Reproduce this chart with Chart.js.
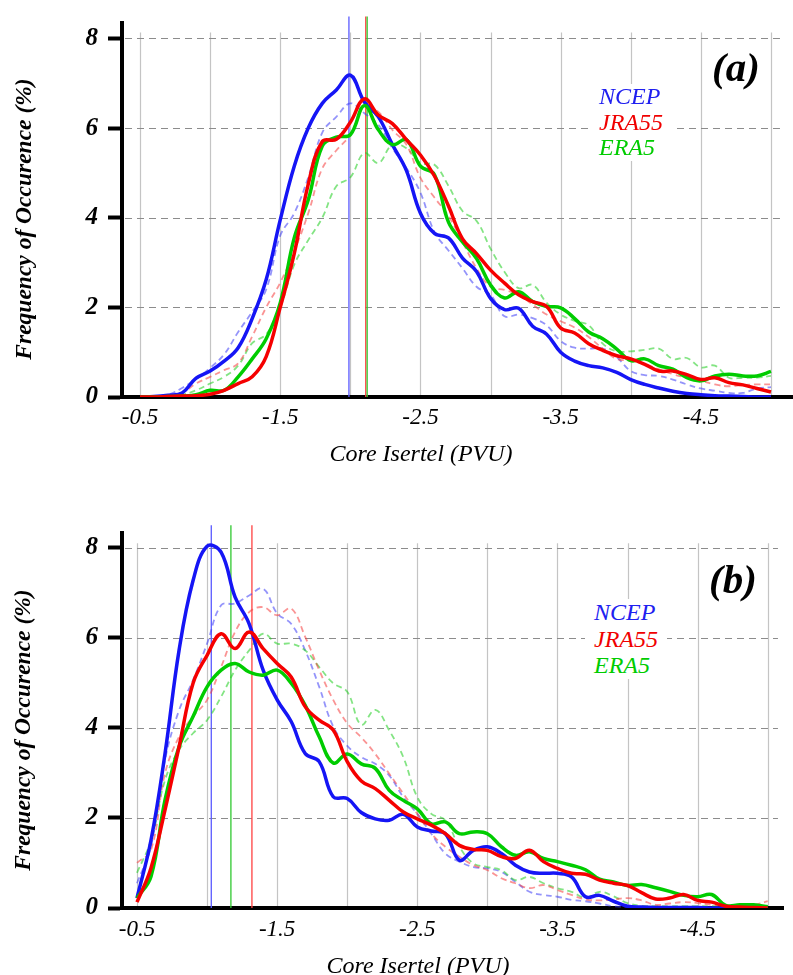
<!DOCTYPE html>
<html><head><meta charset="utf-8">
<script src="https://cdn.jsdelivr.net/npm/chart.js@4.4.1/dist/chart.umd.min.js"></script>
<style>
html,body{margin:0;padding:0;background:#fff;}
#wrap{position:relative;width:793px;height:975px;overflow:hidden;font-family:"Liberation Serif","Times New Roman",serif;}
.pane{position:absolute;left:0;width:793px;}
canvas{display:block;}
.ov{position:absolute;white-space:nowrap;font-style:italic;color:#000;font-family:"Liberation Serif","Times New Roman",serif;}
.ytitle{font-weight:bold;font-size:23.5px;transform:translate(-50%,-50%) rotate(-90deg);}
.xtitle{font-size:24px;transform:translate(-50%,-50%);}
.plabel{font-weight:bold;font-size:41px;transform:translate(-50%,-50%);}
.leg{background:#fff;font-size:24px;padding-left:9px;}
</style></head><body>
<div id="wrap">
  <div class="pane" style="top:0;height:490px"><canvas id="ca" width="793" height="490"></canvas></div>
  <div class="pane" style="top:490px;height:485px"><canvas id="cb" width="793" height="485"></canvas></div>

  <div class="ov ytitle" style="left:23px;top:219px">Frequency of Occurence (%)</div>
  <div class="ov xtitle" style="left:421px;top:453px">Core Isertel (PVU)</div>
  <div class="ov plabel" style="left:736px;top:67px">(a)</div>
  <div class="ov leg" style="left:590px;top:84px;width:73px;line-height:25.5px">
    <div style="color:#2020f0">NCEP</div><div style="color:#f00000">JRA55</div><div style="color:#00cc00">ERA5</div>
  </div>

  <div class="ov ytitle" style="left:22px;top:730px">Frequency of Occurence (%)</div>
  <div class="ov xtitle" style="left:418px;top:965px">Core Isertel (PVU)</div>
  <div class="ov plabel" style="left:733px;top:579px">(b)</div>
  <div class="ov leg" style="left:585px;top:599px;width:73px;line-height:26.5px">
    <div style="color:#2020f0">NCEP</div><div style="color:#f00000">JRA55</div><div style="color:#00cc00">ERA5</div>
  </div>
</div>
<script>
// ---------- data ----------
const xValues = [-0.5,-0.6,-0.7,-0.8,-0.9,-1.0,-1.1,-1.2,-1.3,-1.4,-1.5,-1.6,-1.7,-1.8,-1.9,-2.0,-2.1,-2.2,-2.3,-2.4,-2.5,-2.6,-2.7,-2.8,-2.9,-3.0,-3.1,-3.2,-3.3,-3.4,-3.5,-3.6,-3.7,-3.8,-3.9,-4.0,-4.1,-4.2,-4.3,-4.4,-4.5,-4.6,-4.7,-4.8,-4.9,-5.0];
const xTickLabels = [-0.5,-1.5,-2.5,-3.5,-4.5];
const xGridValues = [-0.5,-1.0,-1.5,-2.0,-2.5,-3.0,-3.5,-4.0,-4.5,-5.0];
const yTickValues = [0,2,4,6,8];

// panel (a) solid
const ncepA = [0,0.01,0.04,0.09,0.42,0.58,0.8,1.1,1.75,2.62,3.95,5.15,6.0,6.55,6.85,7.18,6.58,6.25,5.63,5.05,4.1,3.65,3.55,3.1,2.8,2.2,1.95,1.98,1.58,1.4,1.0,0.8,0.7,0.65,0.55,0.39,0.28,0.2,0.13,0.08,0.05,0.03,0.02,0.01,0,0];
const jraA  = [0,0,0.01,0.02,0.03,0.06,0.15,0.3,0.45,0.9,2.0,3.2,4.75,5.7,5.75,6.13,6.65,6.29,6.1,5.74,5.4,4.93,4.26,3.53,3.2,2.83,2.54,2.28,2.13,2.02,1.54,1.43,1.19,1.04,0.92,0.85,0.73,0.58,0.58,0.5,0.39,0.43,0.32,0.27,0.19,0.11];
const eraA  = [0,0,0.01,0.02,0.05,0.15,0.15,0.45,0.85,1.3,2.1,3.55,4.4,5.6,5.8,5.85,6.5,5.96,5.63,5.74,5.15,4.96,3.9,3.46,3.09,2.5,2.21,2.35,2.13,2.02,1.99,1.75,1.45,1.3,1.07,0.81,0.85,0.7,0.62,0.43,0.36,0.47,0.51,0.47,0.47,0.57];
// panel (a) dashed
const ncepA2 = [0,0.02,0.05,0.2,0.4,0.65,0.95,1.45,1.9,2.4,3.6,4.1,4.9,5.9,6.25,6.55,6.33,6.07,5.55,5.11,4.56,3.68,3.27,2.87,2.46,2.28,1.8,1.84,1.76,1.6,1.25,1.1,1.08,1.08,0.89,0.58,0.49,0.47,0.39,0.28,0.19,0.14,0.09,0.09,0.19,0.22];
const jraA2  = [0,0.01,0.03,0.1,0.3,0.45,0.6,0.75,1.35,2.0,2.55,3.25,4.1,5.1,5.5,5.85,6.5,6.36,5.96,5.63,4.89,4.45,4.04,3.46,2.87,2.46,2.39,2.28,2.06,1.84,1.69,1.55,1.34,1.08,0.85,0.81,0.73,0.62,0.51,0.43,0.36,0.28,0.24,0.27,0.28,0.28];
const eraA2  = [0,0.01,0.02,0.05,0.15,0.3,0.45,0.7,1.2,1.4,2.0,2.95,3.5,4.0,4.7,4.9,5.44,5.22,5.63,5.55,5.22,5.18,4.71,4.15,3.93,3.31,2.79,2.43,2.5,2.1,1.84,1.7,1.6,1.19,1.02,1.02,1.05,1.08,0.85,0.87,0.66,0.7,0.43,0.43,0.43,0.47];

// panel (b) solid
const ncepB = [0.22,1.51,3.43,5.72,7.27,8.03,7.9,6.9,6.31,5.28,4.62,4.14,3.43,3.25,2.47,2.43,2.12,1.98,1.95,2.08,1.8,1.71,1.65,1.06,1.28,1.36,1.21,0.95,0.8,0.77,0.77,0.69,0.25,0.28,0.15,0.04,0.02,0.01,0.01,0.01,0.01,0,0,0,0,0];
const jraB  = [0.13,0.89,2.18,3.58,4.99,5.61,6.09,5.76,6.13,5.76,5.43,5.13,4.47,4.17,3.95,3.25,2.82,2.65,2.39,2.13,1.98,1.84,1.65,1.39,1.3,1.28,1.14,1.1,1.28,1.03,0.88,0.77,0.75,0.62,0.55,0.5,0.34,0.2,0.22,0.3,0.17,0.13,0.04,0.02,0.01,0];
const eraB  = [0.22,0.7,2.4,3.58,4.25,4.91,5.28,5.43,5.24,5.17,5.28,4.99,4.5,3.8,3.22,3.42,3.2,3.1,2.61,2.39,2.2,1.87,1.91,1.65,1.69,1.65,1.36,1.17,1.25,1.1,1.03,0.95,0.85,0.64,0.58,0.5,0.52,0.45,0.37,0.28,0.25,0.3,0.06,0.07,0.07,0.03];
// panel (b) dashed
const ncepB2 = [0.55,1.37,3.29,4.39,5.06,5.87,6.72,6.76,6.94,7.09,6.54,6.31,5.72,4.91,4.03,3.6,3.35,3.2,2.94,2.46,2.09,1.65,1.21,1.03,0.91,0.88,0.8,0.58,0.36,0.29,0.25,0.18,0.15,0.1,0.04,0.02,0.01,0.01,0.01,0.01,0.01,0.01,0.01,0.01,0.01,0.01];
const jraB2  = [1.0,1.29,2.99,3.8,4.25,4.62,5.35,6.13,6.57,6.68,6.5,6.65,6.02,5.28,4.62,4.1,3.79,3.42,2.98,2.54,2.09,1.65,1.36,1.14,0.95,0.84,0.66,0.55,0.44,0.51,0.4,0.29,0.19,0.17,0.19,0.22,0.17,0.07,0.1,0.13,0.11,0.07,0.05,0.05,0.07,0.15];
const eraB2  = [0.78,1.51,2.84,3.51,3.88,4.17,4.69,5.28,5.72,6.09,5.87,5.87,5.72,5.35,4.99,4.8,4.07,4.4,3.94,3.35,2.46,2.09,1.95,1.36,0.99,0.91,0.84,0.62,0.69,0.55,0.44,0.36,0.23,0.36,0.26,0.11,0.05,0.04,0.04,0.04,0.04,0.04,0.04,0.04,0.04,0.05];

// mean values (vertical lines)
const meansA = {ncep:-1.99, jra:-2.11, era:-2.12};
const meansB = {ncep:-1.03, era:-1.17, jra:-1.32};

// ---------- drawing ----------
const COL = {ncep:'#1515f5', jra:'#f50000', era:'#00cc00'};
const DCOL = {ncep:'rgba(60,60,245,0.55)', jra:'rgba(245,60,60,0.55)', era:'rgba(30,205,30,0.55)'};
const MCOL = {ncep:'#5a5aff', jra:'#ff4040', era:'#30c830'};
const FONT = 'Liberation Serif';

function curve(vals, color, width, dash, order){
  return {data: xValues.map((x,i)=>({x:x, y:vals[i]})), borderColor:color, borderWidth:width,
          borderDash:dash, pointRadius:0, tension:0.4, fill:false, order:order};
}
function meanLine(m, color, top){
  return {data:[{x:m,y:0},{x:m,y:top}], borderColor:color, borderWidth:1.3, pointRadius:0,
          tension:0, fill:false, clip:false, order:10};
}

const gridPlugin = {
  id:'bggrid',
  beforeDraw(chart, args, o){
    const {ctx, scales:{x, y}, chartArea} = chart;
    ctx.save();
    ctx.strokeStyle = '#c4c4c4'; ctx.lineWidth = 1.2;
    xGridValues.forEach(v=>{
      const px = Math.round(x.getPixelForValue(v)) + 0.5;
      ctx.beginPath(); ctx.moveTo(px, y.getPixelForValue(o.vTop)); ctx.lineTo(px, y.getPixelForValue(0)); ctx.stroke();
    });
    ctx.strokeStyle = '#8c8c8c'; ctx.lineWidth = 1.2; ctx.setLineDash([7,5]);
    yTickValues.filter(v=>v>0).forEach(v=>{
      const py = Math.round(y.getPixelForValue(v)) + 0.5;
      ctx.beginPath(); ctx.moveTo(chartArea.left + 3, py); ctx.lineTo(x.getPixelForValue(o.hRight), py); ctx.stroke();
    });
    ctx.restore();
  }
};

function makeChart(id, s, m, cfg){
  const datasets = [
    curve(s[0], COL.ncep, 3.5, [], 2),
    curve(s[1], COL.jra, 3.5, [], 0),
    curve(s[2], COL.era, 3.5, [], 1),
    curve(s[3], DCOL.ncep, 1.8, [6,4], 5),
    curve(s[4], DCOL.jra, 1.8, [6,4], 3),
    curve(s[5], DCOL.era, 1.8, [6,4], 4),
    meanLine(m.ncep, MCOL.ncep, cfg.meanTop),
    meanLine(m.era, MCOL.era, cfg.meanTop),
    meanLine(m.jra, MCOL.jra, cfg.meanTop)
  ];
  return new Chart(document.getElementById(id), {
    type:'line',
    data:{datasets},
    plugins:[gridPlugin],
    options:{
      responsive:false, animation:false, events:[],
      layout:{padding:{top:cfg.padTop, right:cfg.padRight, left:0, bottom:0}},
      plugins:{legend:{display:false}, tooltip:{enabled:false}, bggrid:{vTop:cfg.vTop, hRight:cfg.hRight}},
      scales:{
        x:{type:'linear', reverse:true, min:cfg.xmin, max:cfg.xmax,
           afterFit(sc){ sc.height = cfg.xh; },
           afterBuildTicks(sc){ sc.ticks = xTickLabels.map(v=>({value:v})); },
           grid:{display:false, drawTicks:false, tickLength:0},
           border:{display:true, color:'#000', width:4},
           ticks:{color:'#000', padding:cfg.xpad, maxRotation:0, autoSkip:false,
                  font:{family:FONT, size:23, style:'italic'},
                  callback:(v)=>Number(v).toFixed(1)}},
        y:{type:'linear', min:0, max:cfg.ymax,
           afterFit(sc){ sc.width = 122; },
           afterBuildTicks(sc){ sc.ticks = yTickValues.map(v=>({value:v})); },
           grid:{display:true, drawOnChartArea:false, drawTicks:true, tickLength:14, tickWidth:4, tickColor:'#000', color:'#000'},
           border:{display:true, color:'#000', width:4},
           ticks:{color:'#000', padding:10, font:{family:FONT, size:25, style:'italic', weight:'bold', lineHeight:1},
                  callback:(v)=>String(v)}}
      }
    }
  });
}

makeChart('ca', [ncepA, jraA, eraA, ncepA2, jraA2, eraA2], meansA,
  {padTop:20, padRight:0, xmin:-5.157, xmax:-0.3716, ymax:8.355, xh:93, xpad:7, vTop:8.13, hRight:-5.064, meanTop:8.49});
makeChart('cb', [ncepB, jraB, eraB, ncepB2, jraB2, eraB2], meansB,
  {padTop:43, padRight:10, xmin:-5.109, xmax:-0.393, ymax:8.326, xh:67, xpad:8, vTop:8.10, hRight:-5.073, meanTop:8.5});
</script>
</body></html>
